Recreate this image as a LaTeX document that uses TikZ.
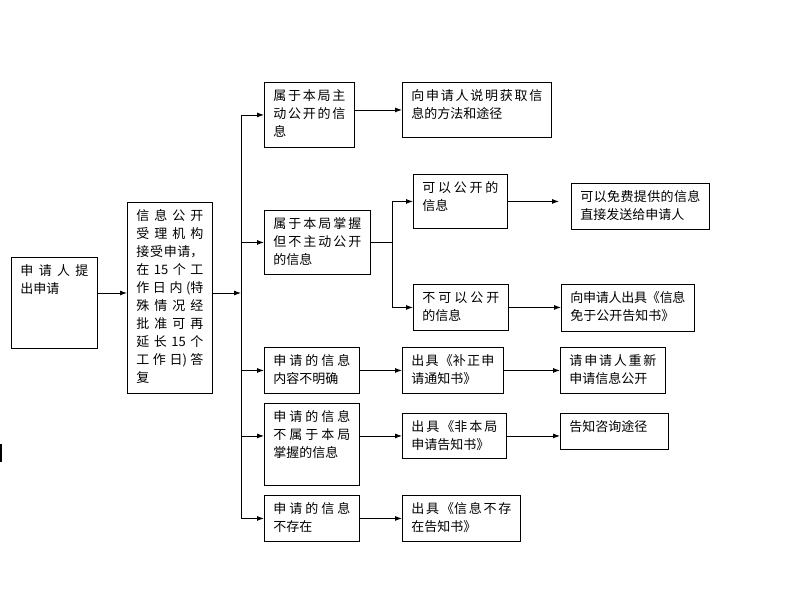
\documentclass[tikz,border=0pt]{standalone}
\usepackage{fontspec}
\setmainfont{Noto Sans CJK SC}
\usepackage{tikz}
\usetikzlibrary{calc,arrows.meta}
\XeTeXlinebreaklocale "zh"
\XeTeXlinebreakskip=0pt plus 4pt minus 0.6pt
\tikzset{box/.style={draw, line width=0.9pt, anchor=north west, inner xsep=9pt, inner ysep=7pt, font=\fontsize{13}{18}\selectfont}}
\def\bx(#1)(#2,#3)(#4:#5)#6{\node[box] (#1) at (#2,#3) {\parbox[t][\dimexpr#5pt-14pt][t]{\dimexpr#4pt-18pt}{#6}};}

\begin{document}
\begin{tikzpicture}[x=1pt, y=-1pt, >={Latex[length=7pt,width=5pt]}, line width=0.9pt]
		%%%%% START %%%%%
		\useasboundingbox (0, 0) rectangle (800, 589);
		
		\bx(apply)(11, 257)(86:91){申请人提\linebreak 出申请}
		\bx(accept)(127, 202)(85:191){信息公开\linebreak 受理机构\linebreak 接受申请，\linebreak 在 15 个工\linebreak 作日内(特\linebreak 殊情况经\linebreak 批准可再\linebreak 延长 15 个\linebreak 工作日)答\linebreak 复}
		
		\bx(infoA)(264, 82)(90:65){属于本局主\linebreak 动公开的信\linebreak 息}
		\bx(guideA)(402, 82)(149:55){向申请人说明获取信\linebreak 息的方法和途径}
		
		\bx(infoB)(264, 210)(106:64){属于本局掌握\linebreak 但不主动公开\linebreak 的信息}
		\bx(pubB1)(413, 174)(94:54){可以公开的\linebreak 信息}
		\bx(privB2)(413, 284)(95:46){不可以公开\linebreak 的信息}
		\bx(sendB1)(571, 183)(138:46){可以免费提供的信息\linebreak 直接发送给申请人}
		\bx(exemptB2)(561, 284)(133:47){向申请人出具《信息\linebreak 免于公开告知书》}
		
		\bx(infoC)(264, 347)(95:46){申请的信息\linebreak 内容不明确}
		\bx(fixC)(402, 347)(101:46){出具《补正申\linebreak 请通知书》}
		\bx(reapplyC)(560, 347)(105:46){请申请人重新\linebreak 申请信息公开}
		
		\bx(infoD)(264, 403)(95:82){申请的信息\linebreak 不属于本局\linebreak 掌握的信息}
		\bx(notOursD)(402, 413)(104:45){出具《非本局\linebreak 申请告知书》}
		\bx(askD)(560, 413)(108:36){告知咨询途径}
		
		\bx(infoE)(264, 495)(95:46){申请的信息\linebreak 不存在}
		\bx(noneE)(402, 495)(118:46){出具《信息不存\linebreak 在告知书》}
		
		\coordinate (trunk) at (241, 293);
		\coordinate (split) at (392, 0);
		
		\draw[->] (apply.east |- trunk) -- (accept.west |- trunk);
		\draw[->] (accept.east |- trunk) -- (trunk);
		\draw (trunk |- infoA.west) -- (trunk |- infoE.west);
		\draw[->] (trunk |- infoA.west) -- (infoA.west);
		\draw[->] (trunk |- infoB.west) -- (infoB.west);
		\draw[->] (trunk |- infoC.west) -- (infoC.west);
		\draw[->] (trunk |- notOursD.west) -- (infoD.west |- notOursD.west);
		\draw[->] (trunk |- infoE.west) -- (infoE.west);
		
		\draw[->] (infoA.east |- guideA.west) -- (guideA.west);
		
		\draw (infoB.east) -- (split |- infoB.east);
		\draw[->] (split |- infoB.east) |- (pubB1.west);
		\draw[->] (split |- infoB.east) |- (privB2.west);
		\draw[->, shorten >=12pt] (pubB1.east) -- (pubB1.east -| sendB1.west);
		\draw[->] (privB2.east) -- (privB2.east -| exemptB2.west);
		
		\draw[->] (infoC.east) -- (fixC.west);
		\draw[->] (fixC.east) -- (reapplyC.west);
		\draw[->] (infoD.east |- notOursD.west) -- (notOursD.west);
		\draw[->] (notOursD.east) -- (notOursD.east -| askD.west);
		\draw[->] (infoE.east) -- (noneE.west);
		
		\draw[line width=2pt] (1, 444) -- (1, 462);
		%%%%% END %%%%%
\end{tikzpicture}
\end{document}
